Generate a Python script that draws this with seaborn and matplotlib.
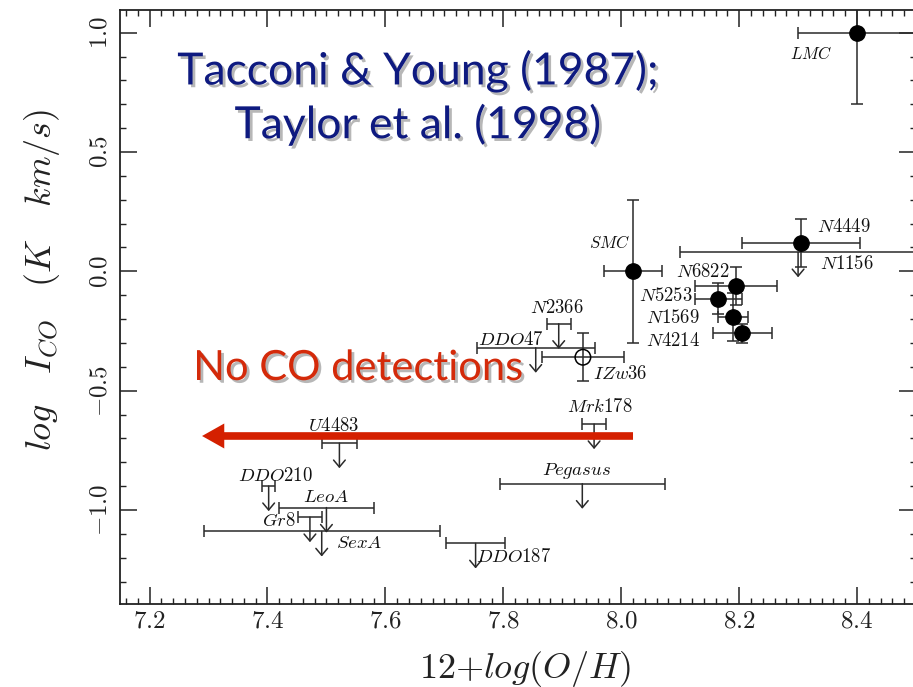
import numpy as np
import pandas as pd
import matplotlib
matplotlib.use("Agg")
import matplotlib.pyplot as plt
import matplotlib.patheffects as pe
import seaborn as sns

# ---------------- data ----------------
det_names = ["LMC", "SMC", "N4449", "N6822", "N5253", "N1569", "N4214", "IZw36"]
det_oh = [8.40, 8.02, 8.305, 8.195, 8.165, 8.19, 8.205, 7.935]
det_ico = [1.00, 0.00, 0.12, -0.06, -0.115, -0.19, -0.26, -0.36]
det_xerr = [0.10, 0.05, 0.10, 0.07, 0.04, 0.025, 0.05, 0.07]
det_yerr = [0.30, 0.30, 0.10, 0.08, 0.065, 0.10, 0.04, 0.10]
det_filled = [True, True, True, True, True, True, True, False]

lim_names = ["N1156", "N2366", "DDO47", "Mrk178", "Pegasus", "U4483",
             "DDO210", "LeoA", "Gr8", "SexA", "DDO187"]
lim_oh = [8.30, 7.894, 7.855, 7.954, 7.934, 7.522, 7.402, 7.50, 7.472, 7.492, 7.753]
lim_ico = [0.08, -0.22, -0.32, -0.64, -0.89, -0.72, -0.90, -0.99, -1.03, -1.09, -1.14]
lim_xerr = [0.20, 0.02, 0.10, 0.02, 0.14, 0.03, 0.011, 0.08, 0.02, 0.20, 0.05]

arrow_oh = [8.02, 7.289]     # "No CO detections" arrow, start -> tip
arrow_ico = -0.69

xticks = [7.2, 7.4, 7.6, 7.8, 8.0, 8.2, 8.4]
yticks = [-1.0, -0.5, 0.0, 0.5, 1.0]

title_text = "Tacconi & Young (1987);\nTaylor et al. (1998)"
noco_text = "No CO detections"

# label offsets (pixels) relative to each point
label_off = {
    "LMC": (-46, -21), "SMC": (-23, 28), "N4449": (43, 16), "N1156": (49, -11),
    "N6822": (-33, 14), "N5253": (-53, 3), "N1569": (-60, -1), "N4214": (-69, -7),
    "IZw36": (37, -16), "N2366": (-2, 16), "DDO47": (-25, 8), "Mrk178": (6, 18),
    "Pegasus": (-6, 13), "U4483": (-6, 18), "DDO210": (7, 11), "LeoA": (0, 11),
    "Gr8": (-31, -3), "SexA": (38, -11), "DDO187": (38, -13),
}
label_small = {"LMC", "SMC"}

# ---------------- style ----------------
sns.set_theme(style="ticks")
plt.rcParams["font.family"] = ["DejaVu Sans"]
plt.rcParams["mathtext.fontset"] = "cm"

W, H = 913, 687
fig = plt.figure(figsize=(W / 100, H / 100), dpi=100)
fig.patch.set_facecolor("white")
left_px, right_px, top_px, bot_px = 119.5, 916, 10, 604
ax = fig.add_axes([left_px / W, 1 - bot_px / H, (right_px - left_px) / W, (bot_px - top_px) / H])
ax.set_facecolor("white")

ax.set_xlim(7.149, 8.50)
ax.set_ylim(-1.394, 1.095)

det = pd.DataFrame(dict(name=det_names, oh=det_oh, ico=det_ico,
                        xerr=det_xerr, yerr=det_yerr, filled=det_filled))
lim = pd.DataFrame(dict(name=lim_names, oh=lim_oh, ico=lim_ico, xerr=lim_xerr))

ecol = "#2a2a2a"
lw = 1.1
ax.errorbar(det.oh, det.ico, xerr=det.xerr, yerr=det.yerr, fmt="none",
            ecolor=ecol, elinewidth=lw, capsize=4.5, capthick=lw, zorder=2)
ax.errorbar(lim.oh, lim.ico, xerr=lim.xerr, fmt="none",
            ecolor=ecol, elinewidth=lw, capsize=4.5, capthick=lw, zorder=2)

sns.scatterplot(data=det[det.filled], x="oh", y="ico", color="black", s=125,
                edgecolor="black", linewidth=0.8, ax=ax, zorder=3, legend=False)
sns.scatterplot(data=det[~det.filled], x="oh", y="ico", s=125, facecolor="none",
                edgecolor="black", linewidth=1.1, ax=ax, zorder=3, legend=False)

arrow_len = 0.105
for _, r in lim.iterrows():
    ax.annotate("", xy=(r.oh, r.ico - arrow_len), xytext=(r.oh, r.ico),
                arrowprops=dict(arrowstyle="->, head_length=0.5, head_width=0.42",
                                color=ecol, lw=lw, shrinkA=0, shrinkB=0,
                                mutation_scale=10), zorder=2)

for df in (det, lim):
    for _, r in df.iterrows():
        dx, dy = label_off[r["name"]]
        ax.annotate(f"${r['name']}$", xy=(r.oh, r.ico), xytext=(dx, dy),
                    textcoords="offset pixels", ha="center", va="center",
                    fontsize=12 if r["name"] in label_small else 13.5,
                    color="#111111", zorder=4)

# axes styling
for s in ax.spines.values():
    s.set_color("#222222")
    s.set_linewidth(1.3)
ax.set_xticks(xticks)
ax.set_yticks(yticks)
ax.set_xticklabels([f"${v:.1f}$" for v in xticks], fontsize=18)
ax.set_yticklabels([f"${v:.1f}$" for v in yticks], fontsize=18, rotation=90, va="center")
ax.xaxis.set_minor_locator(matplotlib.ticker.MultipleLocator(0.02))
ax.yaxis.set_minor_locator(matplotlib.ticker.MultipleLocator(0.1))
ax.tick_params(which="both", direction="in", top=True, right=True, colors="#222222")
ax.tick_params(which="major", length=12, width=1.1, pad=6, labelcolor="#222222")
ax.tick_params(axis="x", which="major", pad=3)
ax.tick_params(which="minor", length=4, width=1.0)

ax.set_xlabel(r"$12{+}log(O/H)$", fontsize=26, color="#222222")
ax.xaxis.set_label_coords(0.509, -0.075, transform=ax.transAxes)
ax.set_ylabel(r"$log\quad I_{CO}\quad (K\;\;\;\;km/s)$", fontsize=26, color="#222222")
ax.yaxis.set_label_coords(-0.072, 0.545, transform=ax.transAxes)

# red arrow
ax.annotate("", xy=(arrow_oh[1], arrow_ico), xytext=(arrow_oh[0], arrow_ico),
            arrowprops=dict(arrowstyle="simple, head_length=1.6, head_width=1.8, tail_width=0.55",
                            color="#d42000", lw=0, shrinkA=0, shrinkB=0, mutation_scale=10),
            zorder=5)

shadow = [pe.withSimplePatchShadow(offset=(2, -2), shadow_rgbFace="#888888", alpha=0.6)]
fig.text(418 / W, 1 - 98 / H, title_text, ha="center", va="center", fontsize=32,
         family=["Lato", "DejaVu Sans"], color="#0e1a80", linespacing=1.32,
         path_effects=shadow)
fig.text(358 / W, 1 - 368 / H, noco_text, ha="center", va="center", fontsize=30,
         family=["Lato", "DejaVu Sans"], color="#d42a0a", path_effects=shadow)

fig.savefig("out.png", dpi=100, facecolor="white")
